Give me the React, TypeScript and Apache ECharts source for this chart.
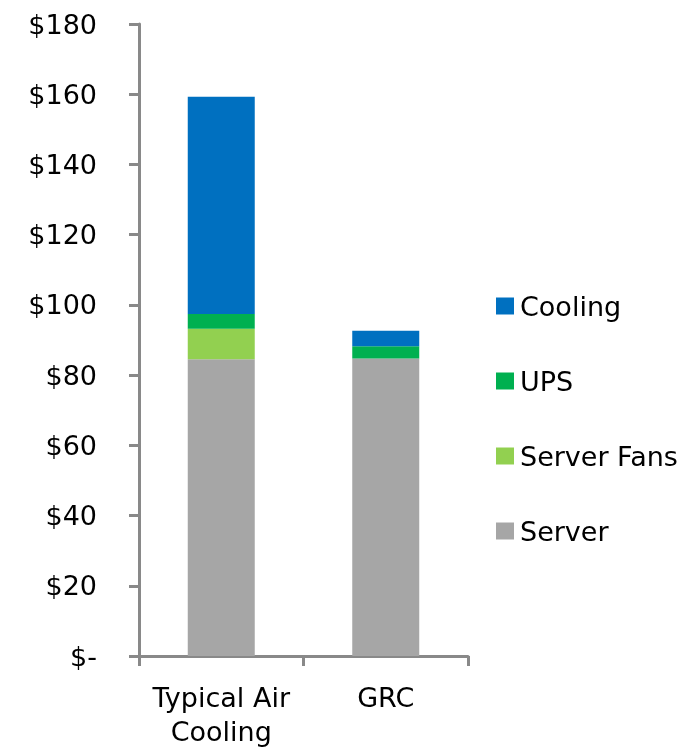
import React, { useEffect, useRef } from "react";
import * as echarts from "echarts";

const categories = ["Typical Air\nCooling", "GRC"];
const serverValues = [84.5, 84.7];
const serverFansValues = [8.7, 0];
const upsValues = [4.2, 3.5];
const coolingValues = [61.9, 4.4];
const legendOrder = ["Cooling", "UPS", "Server Fans", "Server"];
const yTicks = [0, 20, 40, 60, 80, 100, 120, 140, 160, 180];

const FONT = "DejaVu Sans";
const FS = 27;

export default function App() {
  const ref = useRef<HTMLDivElement>(null);
  useEffect(() => {
    if (!ref.current) return;
    const chart = echarts.init(ref.current, undefined, { renderer: "svg" });
    const axisColor = "#898989";
    const mk = (name: string, data: number[], color: string) => ({
      name,
      type: "bar",
      stack: "total",
      data,
      barWidth: 67,
      itemStyle: { color },
    });
    chart.setOption({
      animation: false,
      textStyle: { fontFamily: FONT },
      grid: { left: 139, right: 219, top: 24, bottom: 88 },
      legend: {
        orient: "vertical",
        left: 491,
        top: 286,
        data: legendOrder,
        icon: "rect",
        itemWidth: 18,
        itemHeight: 17,
        itemGap: 45,
        textStyle: { fontFamily: FONT, fontSize: FS, color: "#000", lineHeight: 30, padding: [0, 0, 0, 1] },
      },
      xAxis: {
        type: "category",
        data: categories,
        axisLine: { lineStyle: { color: axisColor, width: 3 } },
        axisTick: { show: true, length: 10, lineStyle: { color: axisColor, width: 3 } },
        axisLabel: {
          interval: 0,
          color: "#000",
          fontFamily: FONT,
          fontSize: FS,
          lineHeight: 34,
          margin: 24,
        },
      },
      yAxis: {
        type: "value",
        min: yTicks[0],
        max: yTicks[yTicks.length - 1],
        interval: 20,
        splitLine: { show: false },
        axisLine: { show: true, lineStyle: { color: axisColor, width: 3 } },
        axisTick: { show: true, length: 10, lineStyle: { color: axisColor, width: 3 } },
        axisLabel: {
          color: "#000",
          fontFamily: FONT,
          fontSize: FS,
          margin: 42,
          formatter: (v: number) => (v === 0 ? "$-" : "$" + v),
        },
      },
      series: [
        mk("Server", serverValues, "#A6A6A6"),
        mk("Server Fans", serverFansValues, "#92D050"),
        mk("UPS", upsValues, "#00B050"),
        mk("Cooling", coolingValues, "#0070C0"),
      ],
    });
    return () => chart.dispose();
  }, []);
  return (
    <div
      ref={ref}
      style={{ position: "fixed", left: 0, top: 0, width: 687, height: 748 }}
    />
  );
}
